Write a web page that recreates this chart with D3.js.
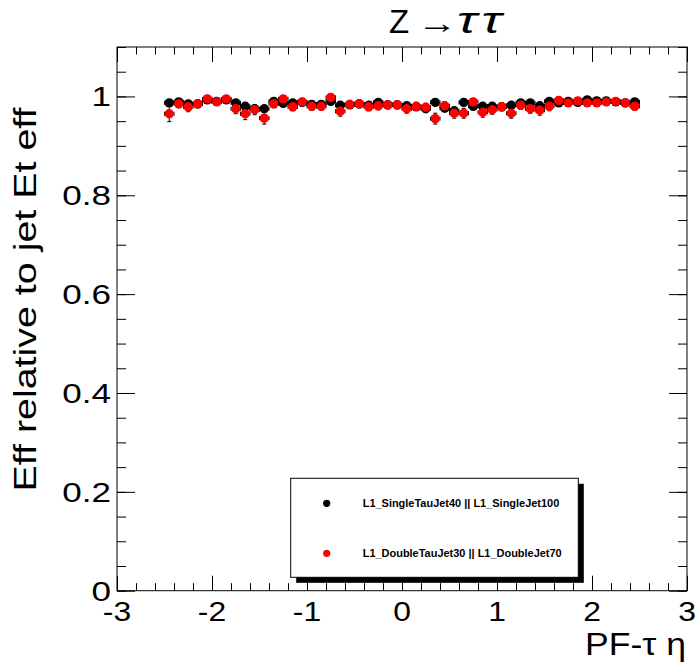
<!DOCTYPE html>
<html>
<head>
<meta charset="utf-8">
<script src="https://cdn.jsdelivr.net/npm/d3@7"></script>
<style>
html,body{margin:0;padding:0;background:#fff;}
svg{display:block;}
text{font-family:"Liberation Sans",Arial,Helvetica,sans-serif;}
</style>
</head>
<body>
<svg id="chart" width="696" height="665"></svg>
<script>
// ---- data ----
const etaCenters = [-2.45,-2.35,-2.25,-2.15,-2.05,-1.95,-1.85,-1.75,-1.65,-1.55,-1.45,-1.35,-1.25,-1.15,-1.05,-0.95,-0.85,-0.75,-0.65,-0.55,-0.45,-0.35,-0.25,-0.15,-0.05,0.05,0.15,0.25,0.35,0.45,0.55,0.65,0.75,0.85,0.95,1.05,1.15,1.25,1.35,1.45,1.55,1.65,1.75,1.85,1.95,2.05,2.15,2.25,2.35,2.45];
const effSingle = [0.987,0.989,0.985,0.985,0.993,0.990,0.993,0.987,0.980,0.975,0.975,0.990,0.986,0.987,0.988,0.984,0.984,0.990,0.982,0.983,0.985,0.982,0.988,0.983,0.983,0.981,0.979,0.975,0.988,0.976,0.971,0.988,0.980,0.980,0.980,0.979,0.982,0.987,0.987,0.981,0.990,0.987,0.990,0.988,0.993,0.991,0.991,0.989,0.987,0.989];
const errSingle = [0.006,0.005,0.005,0.005,0.004,0.004,0.004,0.005,0.005,0.006,0.006,0.005,0.005,0.005,0.005,0.005,0.005,0.004,0.005,0.005,0.005,0.005,0.005,0.005,0.005,0.005,0.005,0.006,0.005,0.005,0.006,0.005,0.005,0.005,0.005,0.005,0.005,0.005,0.005,0.005,0.004,0.004,0.004,0.004,0.004,0.004,0.004,0.004,0.005,0.005];
const effDouble = [0.965,0.985,0.979,0.985,0.995,0.989,0.995,0.975,0.965,0.973,0.956,0.985,0.995,0.979,0.989,0.980,0.980,0.998,0.970,0.984,0.985,0.979,0.981,0.983,0.983,0.975,0.980,0.978,0.955,0.981,0.966,0.966,0.989,0.968,0.973,0.979,0.966,0.982,0.975,0.972,0.980,0.992,0.987,0.991,0.987,0.987,0.989,0.990,0.987,0.980,0.993];
const errDouble = [0.016,0.008,0.010,0.008,0.007,0.007,0.006,0.010,0.012,0.010,0.012,0.008,0.007,0.008,0.007,0.008,0.008,0.006,0.010,0.008,0.008,0.008,0.008,0.008,0.008,0.009,0.008,0.008,0.011,0.008,0.010,0.010,0.007,0.010,0.009,0.008,0.010,0.008,0.009,0.010,0.009,0.006,0.007,0.006,0.007,0.007,0.006,0.006,0.007,0.008,0.006];
const xTicks = [-3,-2,-1,0,1,2,3];
const yTicks = [0,0.2,0.4,0.6,0.8,1];
const seriesNames = ["L1_SingleTauJet40 || L1_SingleJet100","L1_DoubleTauJet30 || L1_DoubleJet70"];
const seriesColors = ["#000000","#ff0000"];
const binHalfWidth = 0.05;

// ---- layout ----
const svg = d3.select("#chart");
const L = 117, R = 687, T = 47, B = 590.7;
const x = d3.scaleLinear().domain([-3,3]).range([L,R]);
const y = d3.scaleLinear().domain([0,1.1]).range([B,T]);

svg.append("rect").attr("x",L).attr("y",T).attr("width",R-L).attr("height",B-T)
  .attr("fill","none").attr("stroke","#000").attr("stroke-width",1);

const xMinor = d3.range(-3,3.0001,0.2).map(v=>+v.toFixed(2));
const yMinor = d3.range(0,1.1001,0.05).map(v=>+v.toFixed(2));
function drawAxis(axis, tr){
  const g = svg.append("g").attr("transform",tr).call(axis);
  g.select(".domain").remove();
  g.selectAll("line").attr("stroke","#000").attr("stroke-width",1);
  return g;
}
drawAxis(d3.axisTop(x).tickValues(xMinor).tickSize(7.5).tickFormat(""),`translate(0,${B})`);
drawAxis(d3.axisTop(x).tickValues(xTicks).tickSize(15).tickFormat(""),`translate(0,${B})`);
drawAxis(d3.axisBottom(x).tickValues(xMinor).tickSize(7.5).tickFormat(""),`translate(0,${T})`);
drawAxis(d3.axisBottom(x).tickValues(xTicks).tickSize(15).tickFormat(""),`translate(0,${T})`);
drawAxis(d3.axisRight(y).tickValues(yMinor).tickSize(9).tickFormat(""),`translate(${L},0)`);
drawAxis(d3.axisRight(y).tickValues(yTicks).tickSize(18).tickFormat(""),`translate(${L},0)`);
drawAxis(d3.axisLeft(y).tickValues(yMinor).tickSize(9).tickFormat(""),`translate(${R},0)`);
drawAxis(d3.axisLeft(y).tickValues(yTicks).tickSize(18).tickFormat(""),`translate(${R},0)`);

// tick labels (horizontally widened font like the original renderer)
const fs = 27;
svg.append("g").selectAll("text").data(xTicks).join("text")
  .attr("transform",d=>`translate(${x(d)},${B+30.5}) scale(1.18,1)`)
  .attr("text-anchor","middle").attr("font-size",fs).text(d=>d);
svg.append("g").selectAll("text").data(yTicks).join("text")
  .attr("transform",d=>`translate(111,${y(d)+10}) scale(1.3,1)`)
  .attr("text-anchor","end").attr("font-size",fs).text(d=>d);

// axis titles
svg.append("text").attr("x",686).attr("y",655).attr("text-anchor","end")
  .attr("font-size",32).attr("textLength",101).attr("lengthAdjust","spacingAndGlyphs").text("PF-τ η");
svg.append("text").attr("transform",`translate(36,299.5) rotate(-90)`)
  .attr("text-anchor","middle").attr("font-size",32).attr("textLength",384)
  .attr("lengthAdjust","spacingAndGlyphs").text("Eff relative to jet Et eff");

// title
svg.append("text").attr("x",389).attr("y",33).attr("font-size",33).text("Z");
svg.append("text").attr("transform","translate(417,33) scale(1.35,1)").attr("font-size",30)
  .attr("font-family","DejaVu Sans").text("→");
svg.append("text").attr("transform","translate(457,33) scale(1.45,1)").attr("font-size",37)
  .attr("font-family","Liberation Serif,serif").attr("font-style","italic")
  .attr("letter-spacing",3).text("ττ");

// series
const data = [
  etaCenters.map((e,i)=>({x:e,y:effSingle[i],err:errSingle[i]})),
  etaCenters.map((e,i)=>({x:e,y:effDouble[i],err:errDouble[i]}))
];
data.forEach((series,si)=>{
  const g = svg.append("g");
  const eg = g.append("g").attr("stroke","#000").attr("stroke-width",1);
  series.forEach(d=>{
    const cx=x(d.x), cy=y(d.y);
    eg.append("line").attr("x1",x(d.x-binHalfWidth)).attr("x2",x(d.x+binHalfWidth)).attr("y1",cy).attr("y2",cy);
    eg.append("line").attr("x1",x(d.x-binHalfWidth)).attr("x2",x(d.x-binHalfWidth)).attr("y1",cy-2).attr("y2",cy+2);
    eg.append("line").attr("x1",x(d.x+binHalfWidth)).attr("x2",x(d.x+binHalfWidth)).attr("y1",cy-2).attr("y2",cy+2);
    eg.append("line").attr("x1",cx).attr("x2",cx).attr("y1",y(d.y+d.err)).attr("y2",y(d.y-d.err));
    eg.append("line").attr("x1",cx-2).attr("x2",cx+2).attr("y1",y(d.y+d.err)).attr("y2",y(d.y+d.err));
    eg.append("line").attr("x1",cx-2).attr("x2",cx+2).attr("y1",y(d.y-d.err)).attr("y2",y(d.y-d.err));
  });
  g.append("g").selectAll("circle").data(series).join("circle")
    .attr("cx",d=>x(d.x)).attr("cy",d=>y(d.y)).attr("r",4.7).attr("fill",seriesColors[si]);
});

// legend
const lx=290.7, ly=478.3, lw=287.6, lh=99;
svg.append("rect").attr("x",lx+5.5).attr("y",ly+5.5).attr("width",lw).attr("height",lh).attr("fill","#000");
svg.append("rect").attr("x",lx).attr("y",ly).attr("width",lw).attr("height",lh).attr("fill","#fff").attr("stroke","#000").attr("stroke-width",1);
const legendLen = [196.6, 199];
seriesNames.forEach((n,i)=>{
  const yy = ly + 25 + i*50;
  svg.append("circle").attr("cx",326.7).attr("cy",yy).attr("r",3.6).attr("fill",seriesColors[i]);
  svg.append("text").attr("x",362.7).attr("y",yy+3.8).attr("font-size",10.3).attr("font-weight","bold")
    .attr("textLength",legendLen[i]).attr("lengthAdjust","spacingAndGlyphs").text(n);
});
</script>
</body>
</html>
